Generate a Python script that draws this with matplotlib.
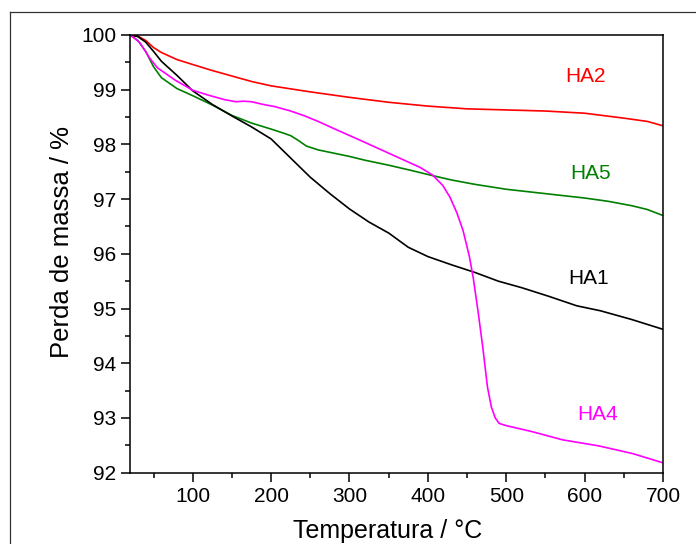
import numpy as np
import matplotlib.pyplot as plt
from matplotlib.ticker import MultipleLocator
from matplotlib.lines import Line2D

plt.rcParams['font.family'] = ['Liberation Sans', 'DejaVu Sans']

# curves (temperature in C, mass in %)
t_ha2 = [20, 30, 40, 50, 60, 80, 100, 125, 150, 175, 200, 250, 300, 350, 400, 450, 500, 550, 600, 650, 680, 700]
m_ha2 = [100, 99.98, 99.9, 99.77, 99.68, 99.55, 99.46, 99.35, 99.25, 99.15, 99.07, 98.96, 98.86, 98.77, 98.70, 98.65, 98.63, 98.61, 98.57, 98.48, 98.42, 98.34]

t_ha5 = [20, 30, 40, 50, 60, 80, 100, 125, 150, 175, 200, 215, 225, 235, 245, 260, 280, 300, 320, 350, 380, 400, 430, 460, 500, 550, 600, 630, 660, 680, 700]
m_ha5 = [100, 99.9, 99.7, 99.42, 99.22, 99.02, 98.89, 98.72, 98.53, 98.39, 98.28, 98.21, 98.16, 98.07, 97.97, 97.9, 97.84, 97.78, 97.71, 97.62, 97.52, 97.45, 97.35, 97.27, 97.18, 97.1, 97.02, 96.96, 96.88, 96.81, 96.7]

t_ha1 = [20, 30, 40, 50, 60, 80, 100, 125, 150, 175, 200, 225, 250, 275, 300, 325, 350, 375, 400, 430, 460, 490, 520, 555, 590, 620, 660, 700]
m_ha1 = [100, 99.97, 99.87, 99.7, 99.52, 99.26, 98.98, 98.73, 98.52, 98.32, 98.1, 97.75, 97.4, 97.1, 96.82, 96.58, 96.38, 96.12, 95.95, 95.8, 95.66, 95.5, 95.38, 95.22, 95.05, 94.96, 94.8, 94.62]

t_ha4 = [20, 25, 33, 45, 55, 65, 77, 100, 120, 140, 155, 165, 175, 190, 205, 225, 243, 260, 280, 313, 350, 390, 406, 419, 428, 437, 445, 453, 458, 464, 470, 476, 481, 486, 491, 500, 533, 572, 618, 661, 700]
m_ha4 = [100, 99.95, 99.85, 99.58, 99.4, 99.3, 99.18, 98.99, 98.9, 98.82, 98.78, 98.79, 98.78, 98.73, 98.69, 98.61, 98.52, 98.42, 98.29, 98.08, 97.84, 97.58, 97.44, 97.25, 97.04, 96.75, 96.42, 95.95, 95.55, 94.95, 94.3, 93.57, 93.2, 93.0, 92.9, 92.86, 92.75, 92.6, 92.49, 92.35, 92.18]

labels = ['HA2', 'HA5', 'HA1', 'HA4']
label_x = [601, 608, 605, 616]
label_y = [99.25, 97.46, 95.54, 93.07]
colors = ['#ff0000', '#008000', '#000000', '#ff00ff']

fig = plt.figure(figsize=(6.96, 5.44), dpi=100)
ax = fig.add_axes([0.1868, 0.1311, 0.7658, 0.8046])

series = [(t_ha2, m_ha2), (t_ha5, m_ha5), (t_ha1, m_ha1), (t_ha4, m_ha4)]
for (t, m), c in zip(series, colors):
    ax.plot(t, m, color=c, lw=1.2)

for lab, x, y, c in zip(labels, label_x, label_y, colors):
    ax.text(x, y, lab, color=c, fontsize=15, ha='center', va='center')

ax.set_xlim(20, 700)
ax.set_ylim(92, 100)
ax.xaxis.set_major_locator(MultipleLocator(100))
ax.xaxis.set_minor_locator(MultipleLocator(50))
ax.yaxis.set_major_locator(MultipleLocator(1))
ax.yaxis.set_minor_locator(MultipleLocator(0.5))
ax.tick_params(which='major', length=6.5, width=1.1, labelsize=15, direction='out')
ax.tick_params(which='minor', length=3.5, width=1.1, direction='out')
for s in ax.spines.values():
    s.set_linewidth(1.1)

ax.set_xlabel('Temperatura / °C', fontsize=18)
ax.set_ylabel('Perda de massa / %', fontsize=18.5)
ax.xaxis.set_label_coords(0.483, -0.105)
ax.yaxis.set_label_coords(-0.106, 0.527)

# thin frame around the figure (left and top edges visible)
fig.add_artist(Line2D([10/696, 10/696], [0, 1 - 12/544], color='#333333', lw=0.9))
fig.add_artist(Line2D([10/696, 1], [1 - 12/544, 1 - 12/544], color='#333333', lw=0.9))

fig.savefig('out.png', dpi=100)
